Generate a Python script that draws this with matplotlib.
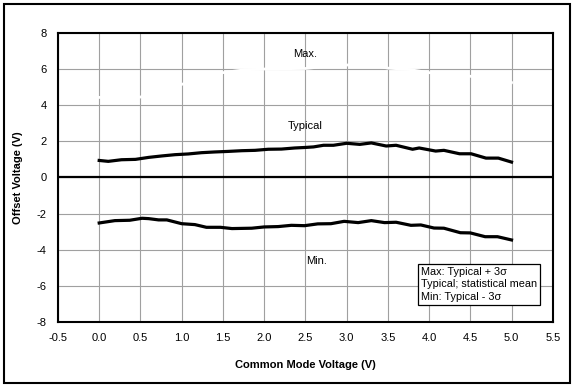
import matplotlib
matplotlib.use("Agg")
import matplotlib.pyplot as plt
from matplotlib.patches import Rectangle

plt.rcParams['font.family'] = ['Liberation Sans', 'DejaVu Sans']

# Typical curve
typ_x = [0.0, 0.11, 0.27, 0.44, 0.6, 0.76, 0.92, 1.08, 1.24, 1.4, 1.56, 1.73, 1.89, 2.05,
         2.21, 2.37, 2.5, 2.6, 2.72, 2.84, 3.0, 3.16, 3.3, 3.48, 3.6, 3.8, 3.88, 4.08,
         4.18, 4.37, 4.51, 4.69, 4.84, 5.0]
typ_y = [0.94, 0.89, 0.98, 1.0, 1.11, 1.19, 1.26, 1.3, 1.37, 1.41, 1.44, 1.48, 1.5, 1.56,
         1.57, 1.63, 1.66, 1.69, 1.78, 1.78, 1.89, 1.83, 1.91, 1.74, 1.78, 1.56, 1.63, 1.46,
         1.5, 1.31, 1.31, 1.07, 1.07, 0.85]

# Min curve
min_x = [0.0, 0.19, 0.37, 0.52, 0.6, 0.72, 0.82, 1.0, 1.16, 1.3, 1.47, 1.61, 1.85, 2.0,
         2.17, 2.33, 2.49, 2.65, 2.81, 2.97, 3.14, 3.3, 3.46, 3.6, 3.78, 3.9, 4.06, 4.18,
         4.38, 4.5, 4.68, 4.83, 5.0]
min_y = [-2.52, -2.39, -2.37, -2.26, -2.28, -2.35, -2.35, -2.56, -2.61, -2.76, -2.76, -2.83,
         -2.81, -2.74, -2.72, -2.65, -2.67, -2.57, -2.56, -2.43, -2.5, -2.39, -2.5, -2.48,
         -2.65, -2.63, -2.8, -2.81, -3.06, -3.07, -3.28, -3.28, -3.46]

# Max curve (drawn in white in the original)
max_x = [0.0, 0.25, 0.5, 0.75, 1.0, 1.25, 1.5, 1.75, 2.0, 2.25, 2.5, 2.75,
         3.0, 3.25, 3.5, 3.75, 4.0, 4.25, 4.5, 4.75, 5.0]
max_y = [4.43, 4.40, 4.45, 4.80, 5.15, 5.50, 5.80, 5.95, 6.00, 6.02, 6.03, 6.15,
         6.22, 6.28, 6.05, 5.98, 5.80, 5.70, 5.60, 5.45, 5.25]

xticks = [-0.5, 0.0, 0.5, 1.0, 1.5, 2.0, 2.5, 3.0, 3.5, 4.0, 4.5, 5.0, 5.5]
yticks = [-8, -6, -4, -2, 0, 2, 4, 6, 8]

fig = plt.figure(figsize=(5.74, 3.87), dpi=100)
ax = fig.add_axes([0.101, 0.168, 0.862, 0.747])

ax.set_xlim(-0.5, 5.5)
ax.set_ylim(-8, 8)
ax.set_xticks(xticks)
ax.set_xticklabels([f"{t:.1f}" for t in xticks])
ax.set_yticks(yticks)
ax.set_yticklabels([str(t) for t in yticks])
ax.tick_params(length=0, labelsize=8, pad=8)
ax.grid(True, color='#a0a0a0', linewidth=0.8, zorder=0)
ax.set_axisbelow(True)
for s in ax.spines.values():
    s.set_linewidth(1.5)
    s.set_color('black')

ax.axhline(0, color='black', linewidth=1.6, zorder=2)

ax.plot(max_x, max_y, color='white', linewidth=2.0, zorder=3)
ax.plot(typ_x, typ_y, color='black', linewidth=2.3, zorder=4, solid_joinstyle='round')
ax.plot(min_x, min_y, color='black', linewidth=2.3, zorder=4, solid_joinstyle='round')

ax.text(2.5, 6.85, "Max.", ha='center', va='center', fontsize=8, zorder=5)
ax.text(2.5, 2.85, "Typical", ha='center', va='center', fontsize=8, zorder=5)
ax.text(2.64, -4.65, "Min.", ha='center', va='center', fontsize=8, zorder=5)

ax.text(3.9, -5.92, "Max: Typical + 3\u03c3\nTypical; statistical mean\nMin: Typical - 3\u03c3",
        ha='left', va='center', fontsize=7.8, linespacing=1.3, zorder=6,
        bbox=dict(boxstyle='square,pad=0.3', facecolor='white', edgecolor='black', linewidth=0.9))

ax.set_xlabel("Common Mode Voltage (V)", fontsize=8, fontweight='bold', labelpad=12)
ax.set_ylabel("Offset Voltage (V)", fontsize=8, fontweight='bold', labelpad=10)

fig.patches.append(Rectangle((4/574, 4/387), 566/574, 379/387, transform=fig.transFigure,
                             fill=False, edgecolor='black', linewidth=1.5))

fig.savefig("out.png", dpi=100)
